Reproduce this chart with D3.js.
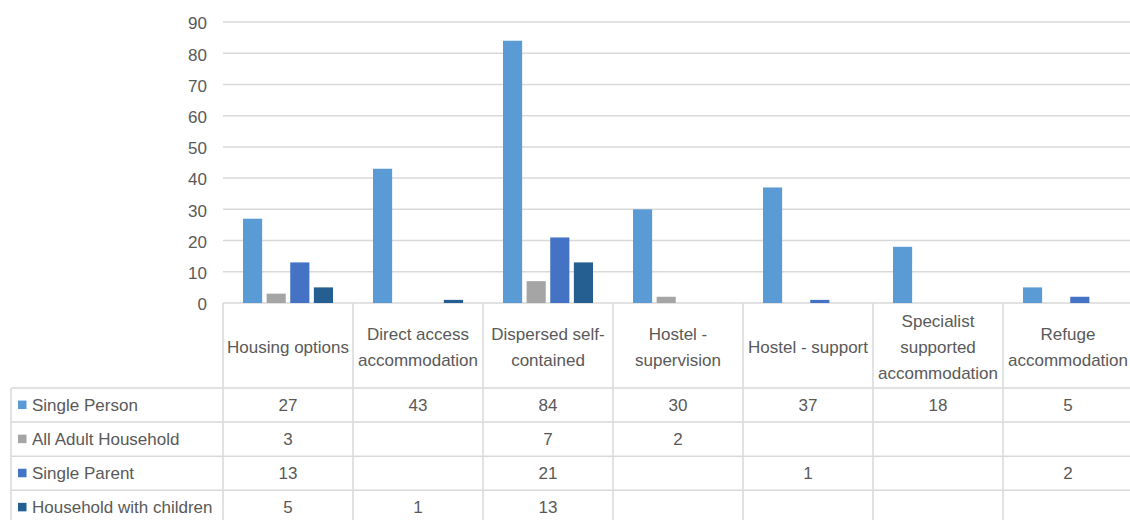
<!DOCTYPE html>
<html>
<head>
<meta charset="utf-8">
<script src="https://cdnjs.cloudflare.com/ajax/libs/d3/7.8.5/d3.min.js"></script>
<style>
  html, body { margin: 0; padding: 0; background: #ffffff; }
  svg { display: block; }
  text { font-family: "Liberation Sans", Arial, sans-serif; fill: #595959; }
</style>
</head>
<body>
<svg id="chart" width="1130" height="520"></svg>
<script>
// Accommodation types (line breaks mark how the header cells wrap)
const categories = [
  "Housing options",
  "Direct access\naccommodation",
  "Dispersed self-\ncontained",
  "Hostel -\nsupervision",
  "Hostel - support",
  "Specialist\nsupported\naccommodation",
  "Refuge\naccommodation"
];

const seriesNames = ["Single Person", "All Adult Household", "Single Parent", "Household with children"];
const seriesColors = ["#5B9BD5", "#A5A5A5", "#4472C4", "#255E91"];

// One array per household type; null = no entry in the table
const singlePerson        = [27, 43, 84, 30, 37, 18, 5];
const allAdultHousehold   = [3, null, 7, 2, null, null, null];
const singleParent        = [13, null, 21, null, 1, null, 2];
const householdWithChildren = [5, 1, 13, null, null, null, null];

const yTicks = [0, 10, 20, 30, 40, 50, 60, 70, 80, 90];

const seriesValues = [singlePerson, allAdultHousehold, singleParent, householdWithChildren];

// ---- layout ----
const W = 1130, H = 520;
const plotLeft = 223, colW = 130;
const plotTop = 22, plotBottom = 303;
const headerBottom = 388, rowH = 34.1;
const tableLeft = 11;
const fontSize = 17;

const svg = d3.select("#chart");

const x0 = d3.scaleBand()
  .domain(categories)
  .range([plotLeft, plotLeft + colW * categories.length])
  .padding(0);

const x1 = d3.scaleBand()
  .domain(seriesNames)
  .range([20, colW - 20])
  .paddingInner(0.19);

const y = d3.scaleLinear()
  .domain([0, 90])
  .range([plotBottom, plotTop]);

// gridlines
svg.append("g")
  .selectAll("line")
  .data(yTicks)
  .join("line")
  .attr("x1", plotLeft)
  .attr("x2", W)
  .attr("y1", d => y(d))
  .attr("y2", d => y(d))
  .attr("stroke", "#D9D9D9")
  .attr("stroke-width", 1.5);

// y axis labels
const yAxis = d3.axisLeft(y).tickValues(yTicks).tickSize(0).tickPadding(0);
const yG = svg.append("g")
  .attr("transform", `translate(${plotLeft - 16},0)`)
  .call(yAxis);
yG.select(".domain").remove();
yG.selectAll("text")
  .attr("font-size", fontSize)
  .attr("font-family", "Liberation Sans, Arial, sans-serif")
  .attr("fill", "#595959")
  .attr("dy", "0.4em");

// bars
const groups = svg.append("g")
  .selectAll("g")
  .data(categories.map((c, i) => ({ c, i })))
  .join("g")
  .attr("transform", d => `translate(${x0(d.c)},0)`);

groups.selectAll("rect")
  .data(d => seriesNames.map((s, k) => ({ s, k, v: seriesValues[k][d.i] })).filter(e => e.v != null))
  .join("rect")
  .attr("x", e => x1(e.s))
  .attr("width", x1.bandwidth())
  .attr("y", e => y(e.v))
  .attr("height", e => y(0) - y(e.v))
  .attr("fill", e => seriesColors[e.k]);

// ---- data table ----
const grid = svg.append("g").attr("stroke", "#D9D9D9").attr("stroke-width", 1.5);
const tableRight = W;
const rowTops = seriesNames.map((s, k) => headerBottom + k * rowH);

// vertical cell borders
categories.forEach(c => {
  grid.append("line")
    .attr("x1", x0(c)).attr("x2", x0(c))
    .attr("y1", plotBottom).attr("y2", H);
});
grid.append("line")
  .attr("x1", tableLeft).attr("x2", tableLeft)
  .attr("y1", headerBottom).attr("y2", H);

// horizontal row borders
rowTops.forEach(t => {
  grid.append("line")
    .attr("x1", tableLeft).attr("x2", tableRight)
    .attr("y1", t).attr("y2", t);
});

// header labels
const header = svg.append("g");
categories.forEach(c => {
  const lines = c.split("\n");
  const cx = x0(c) + colW / 2;
  const midBase = (plotBottom + headerBottom) / 2 + 7.5;
  lines.forEach((ln, i) => {
    header.append("text")
      .attr("x", cx)
      .attr("y", midBase + (i - (lines.length - 1) / 2) * 26)
      .attr("text-anchor", "middle")
      .attr("font-size", fontSize)
      .text(ln);
  });
});

// legend cells + values
seriesNames.forEach((s, k) => {
  const cy = rowTops[k] + rowH / 2;
  svg.append("rect")
    .attr("x", 18).attr("y", cy - 4.5)
    .attr("width", 8.5).attr("height", 8.5)
    .attr("fill", seriesColors[k]);
  svg.append("text")
    .attr("x", 32).attr("y", cy)
    .attr("dy", "0.36em")
    .attr("font-size", fontSize)
    .text(s);
  categories.forEach((c, i) => {
    const v = seriesValues[k][i];
    if (v == null) return;
    svg.append("text")
      .attr("x", x0(c) + colW / 2)
      .attr("y", cy)
      .attr("dy", "0.36em")
      .attr("text-anchor", "middle")
      .attr("font-size", fontSize)
      .text(v);
  });
});
</script>
</body>
</html>
